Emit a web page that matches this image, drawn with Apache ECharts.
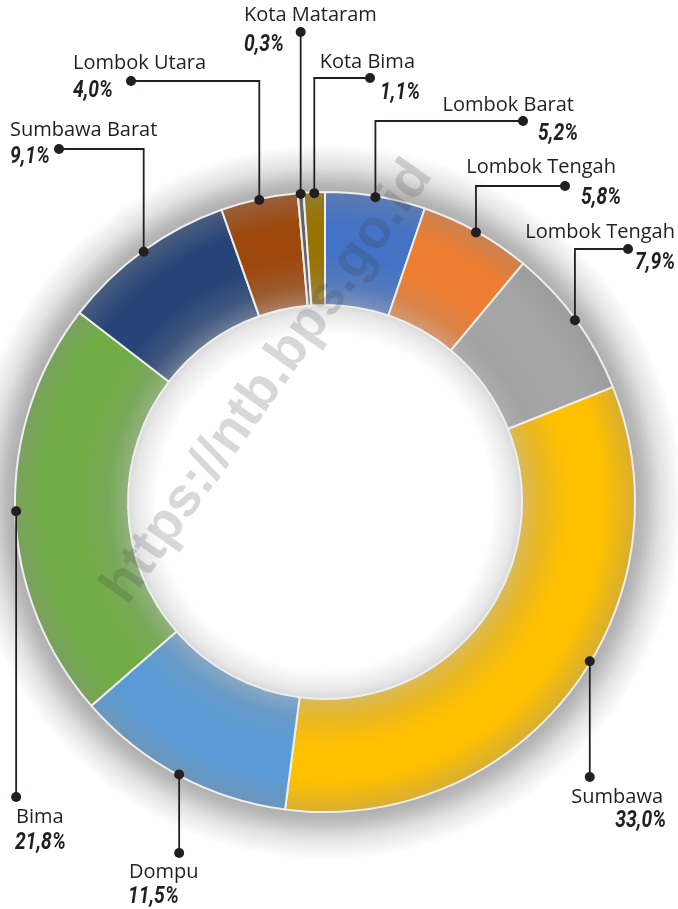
<!DOCTYPE html>
<html>
<head>
<meta charset="utf-8">
<script src="https://cdn.jsdelivr.net/npm/echarts@6/dist/echarts.min.js"></script>
<style>
html,body{margin:0;padding:0;background:#ffffff;}
#chart{width:678px;height:909px;}
</style>
</head>
<body>
<div id="chart"></div>
<script>
// ---- data ----
const categories = ['Lombok Barat','Lombok Tengah','Lombok Tengah','Sumbawa','Dompu','Bima','Sumbawa Barat','Lombok Utara','Kota Mataram','Kota Bima'];
const values = [5.2, 5.8, 7.9, 33.0, 11.5, 21.8, 9.1, 4.0, 0.3, 1.1];
const colors = ['#4472C4','#ED7D31','#A5A5A5','#FFC000','#5B9BD5','#70AD47','#264478','#9E480E','#636363','#997300'];
const watermark = 'https://ntb.bps.go.id';

// ---- layout (positions only) ----
const CX = 325, CY = 502, R_IN = 197, R_OUT = 310;
// route: bendY+endX => vertical then horizontal ; endY => straight vertical
const labelLayout = [
  {bendY:121, endX:523, nx:574, ny:105, vx:578, vy:134, align:'right'},
  {bendY:186, endX:565, nx:616, ny:167, vx:621, vy:198, align:'right'},
  {bendY:249, endX:628, nx:675, ny:232, vx:675, vy:263, align:'right'},
  {endY:777, at:0.443, nx:663, ny:797, vx:666, vy:821, align:'right'},
  {endY:853, nx:129, ny:872, vx:128, vy:897, align:'left'},
  {endY:797, nx:16, ny:817, vx:15, vy:843, align:'left'},
  {bendY:149, endX:59, nx:10, ny:130, vx:10, vy:157, align:'left'},
  {bendY:81, endX:131, nx:73, ny:63, vx:73, vy:91, align:'left'},
  {endY:32, nx:244, ny:15, vx:244, vy:45, align:'left'},
  {bendY:78, endX:370, nx:415, ny:62, vx:420, vy:93, align:'right'}
];

function hexToRgb(h){h=h.replace('#','');return [parseInt(h.substr(0,2),16),parseInt(h.substr(2,2),16),parseInt(h.substr(4,2),16)];}
function mix(c, g, t){const a=hexToRgb(c), b=hexToRgb(g);return 'rgb('+a.map((v,i)=>Math.round(v*(1-t)+b[i]*t)).join(',')+')';}

function ringGradient(c){
  return {type:'radial', x:CX, y:CY, r:R_OUT, global:true, colorStops:[
    {offset:R_IN/R_OUT, color:mix(c,'#b4b4b4',0.5)},
    {offset:0.70, color:mix(c,'#9a9a9a',0.22)},
    {offset:0.79, color:c},
    {offset:0.90, color:c},
    {offset:1.0, color:mix(c,'#8c8c8c',0.35)}
  ]};
}

const total = values.reduce((a,b)=>a+b,0);
const data = categories.map((n,i)=>({name:n, value:values[i], itemStyle:{color:ringGradient(colors[i])}}));

const graphics = [];
const LINE = '#231f20';
let cum = 0;
values.forEach((v,i)=>{
  const L = labelLayout[i];
  const frac = L.at !== undefined ? L.at : 0.5;
  const th = (cum + v*frac)/total*2*Math.PI;
  cum += v;
  const ax = CX + (R_OUT-1)*Math.sin(th), ay = CY - (R_OUT-1)*Math.cos(th);
  let pts, end;
  if (L.bendY !== undefined){ pts=[[ax,ay],[ax,L.bendY],[L.endX,L.bendY]]; end=[L.endX,L.bendY]; }
  else { pts=[[ax,ay],[ax,L.endY]]; end=[ax,L.endY]; }
  graphics.push({type:'polyline', z:50, shape:{points:pts}, style:{stroke:LINE, lineWidth:1.8, fill:null}});
  graphics.push({type:'circle', z:51, shape:{cx:ax, cy:ay, r:5}, style:{fill:LINE}});
  graphics.push({type:'circle', z:51, shape:{cx:end[0], cy:end[1], r:5}, style:{fill:LINE}});
  graphics.push({type:'text', z:52, style:{text:categories[i], x:L.nx, y:L.ny, align:L.align, verticalAlign:'middle',
    fontFamily:'"Open Sans", "Noto Sans", sans-serif', fontSize:20, fill:LINE}});
  graphics.push({type:'text', z:52, x:L.vx, y:L.vy, scaleX:0.84, style:{text:v.toFixed(1).replace('.',',')+'%', x:0, y:0, align:L.align, verticalAlign:'middle',
    fontFamily:'Roboto, "DejaVu Sans", sans-serif', fontSize:23, fontWeight:'bold', fontStyle:'italic', fill:LINE}});
});

graphics.push({type:'text', z:100, x:268, y:382, rotation:0.953, style:{text:watermark, x:0, y:0, align:'center', verticalAlign:'middle',
  fontFamily:'"Liberation Sans", Arial, sans-serif', fontSize:55, fontWeight:'bold', fill:'rgba(60,60,60,0.2)'}});

const chart = echarts.init(document.getElementById('chart'), null, {renderer:'canvas'});
chart.setOption({
  backgroundColor:'#ffffff',
  animation:false,
  graphic: graphics,
  series:[
    {type:'pie', silent:true, center:[CX,CY], radius:[R_OUT-6, R_OUT+48], label:{show:false}, labelLine:{show:false},
      data:[{value:1, itemStyle:{color:{type:'radial', x:CX, y:CY, r:R_OUT+48, global:true, colorStops:[
        {offset:(R_OUT-6)/(R_OUT+48), color:'#a6a6a6'},
        {offset:(R_OUT+8)/(R_OUT+48), color:'#b9b9b9'},
        {offset:(R_OUT+26)/(R_OUT+48), color:'#e2e2e2'},
        {offset:1, color:'#ffffff'}]}}}]},
    {type:'pie', silent:true, center:[CX,CY], radius:[0, R_IN+2], label:{show:false}, labelLine:{show:false},
      data:[{value:1, itemStyle:{color:{type:'radial', x:CX, y:CY, r:R_IN+2, global:true, colorStops:[
        {offset:0, color:'#ffffff'},
        {offset:0.84, color:'#ffffff'},
        {offset:0.95, color:'#e8e8e8'},
        {offset:1, color:'#d4d4d4'}]}}}]},
    {type:'pie', silent:true, center:[CX,CY], radius:[R_IN, R_OUT], startAngle:90, clockwise:true,
      avoidLabelOverlap:false, label:{show:false}, labelLine:{show:false},
      itemStyle:{borderColor:'#eeeeee', borderWidth:2},
      data:data}
  ]
});
</script>
</body>
</html>
